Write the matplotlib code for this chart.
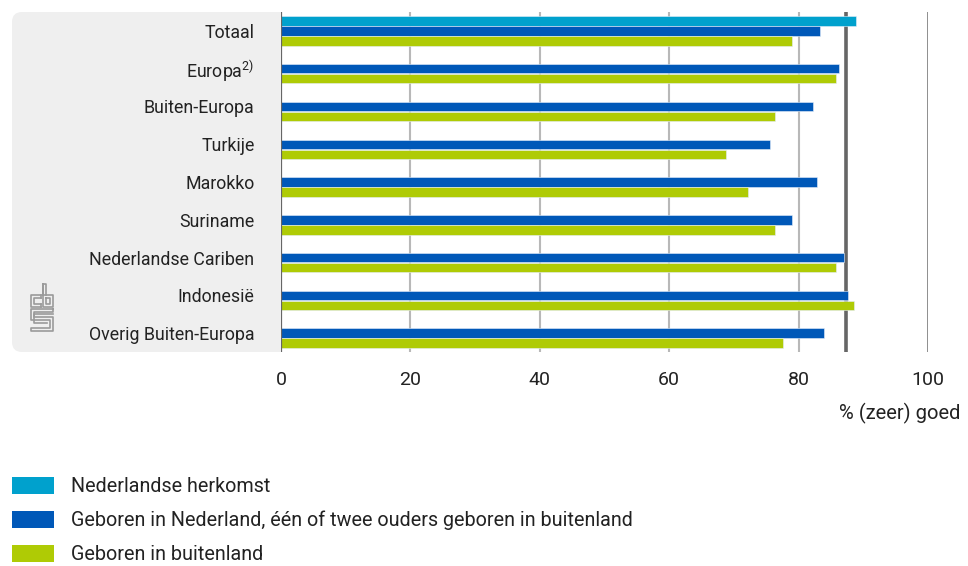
import numpy as np
import matplotlib
matplotlib.use("Agg")
import matplotlib.pyplot as plt
from matplotlib.patches import FancyBboxPatch, Rectangle
from matplotlib.transforms import IdentityTransform

plt.rcParams['font.family'] = ['Roboto', 'DejaVu Sans']
plt.rcParams['mathtext.default'] = 'regular'

categories = ["Totaal", "Europa$^{2)}$", "Buiten-Europa", "Turkije", "Marokko",
              "Suriname", "Nederlandse Cariben", "Indonesië", "Overig Buiten-Europa"]
nl_herkomst = [88.9, None, None, None, None, None, None, None, None]
tweede_gen = [83.3, 86.2, 82.3, 75.6, 82.8, 79.0, 87.0, 87.6, 83.9]
eerste_gen = [79.0, 85.8, 76.4, 68.8, 72.2, 76.4, 85.8, 88.6, 77.6]
ref_value = 87.3
series_names = ["Nederlandse herkomst",
                "Geboren in Nederland, één of twee ouders geboren in buitenland",
                "Geboren in buitenland"]
colors = ["#00a1cd", "#0058b8", "#afcb05"]
text_col = "#222222"

W, H = 968, 566
fig = plt.figure(figsize=(W / 100, H / 100), dpi=100)

# grey label panel with rounded corners (pixel coordinates, y flipped)
panel = FancyBboxPatch((12 + 10, H - 352 + 10), 281 - 12 - 20, 340 - 20,
                       boxstyle="round,pad=10", transform=IdentityTransform(),
                       facecolor="#efefef", edgecolor="none", zorder=0)
fig.patches.append(panel)
fig.patches.append(Rectangle((260, H - 352), 21, 340, transform=IdentityTransform(),
                             facecolor="#efefef", edgecolor="none", zorder=0))

ax = fig.add_axes([281 / W, 1 - 352 / H, (928 - 281) / W, 340 / H])
ax.set_facecolor("none")
ax.set_zorder(2)

y = np.arange(len(categories))
h = 0.25
off = 0.265
series = [nl_herkomst, tweede_gen, eerste_gen]
for k, (vals, col) in enumerate(zip(series, colors)):
    for i, v in enumerate(vals):
        if v is None:
            continue
        ax.barh(y[i] + (k - 1) * off, v, height=h, color=col,
                edgecolor="#e6eefa", linewidth=0.4, zorder=3)

ax.set_xlim(0, 100)
ax.set_ylim(len(categories) - 0.5, -0.5)

for gx in [20, 40, 60, 80]:
    ax.axvline(gx, color="#b8b8b8", lw=1.5, zorder=1)
ax.axvline(100, color="#707070", lw=1.1, zorder=1)
ax.axvline(ref_value, color="#666666", lw=2.6, zorder=2)
ax.axvline(0, color="#666666", lw=1.6, zorder=4)

for s in ax.spines.values():
    s.set_visible(False)

ax.set_yticks(y)
ax.set_yticklabels(categories, fontsize=12.8, color=text_col)
ax.set_xticks([0, 20, 40, 60, 80, 100])
ax.set_xticklabels(["0", "20", "40", "60", "80", "100"], fontsize=14, color=text_col)
ax.tick_params(axis="y", length=0, pad=19)
ax.tick_params(axis="x", length=0, pad=14)

fig.text(960 / W, 1 - 413 / H, "% (zeer) goed", ha="right", va="center",
         fontsize=14.5, color=text_col)

# legend
for j, (name, col) in enumerate(zip(series_names, colors)):
    top = 477 + j * 34
    fig.patches.append(Rectangle((12, H - top - 17), 42, 17, transform=IdentityTransform(),
                                 facecolor=col, edgecolor="none"))
    fig.text(71 / W, 1 - (top + 9) / H, name, ha="left", va="center",
             fontsize=14.2, color=text_col)

# simplified cbs logo
logo_col = "#9a9a9a"
def pline(xs, ys):
    fig.lines.append(plt.Line2D([x / W for x in xs], [1 - v / H for v in ys],
                                transform=fig.transFigure, color=logo_col, lw=1.2))
# c
pline([41, 31, 31, 41], [295, 295, 307, 307])
pline([41, 34, 34, 41], [298, 298, 304, 304])
pline([41, 41], [295, 298]); pline([41, 41], [304, 307])
# b
pline([43, 43, 53, 53, 43, 43], [284, 307, 307, 295, 295, 284])
pline([46, 46, 50, 50, 46], [298, 304, 304, 298, 298])
pline([43, 46, 46], [284, 284, 295])
# s
pline([53, 31, 31, 50, 50, 31, 31, 53, 53, 34, 34, 53, 53],
      [309, 309, 320, 320, 328, 328, 331, 331, 317, 317, 312, 312, 309])
pline([53, 34, 34, 47], [314, 314, 323, 323])

fig.savefig("out.png", dpi=100)
